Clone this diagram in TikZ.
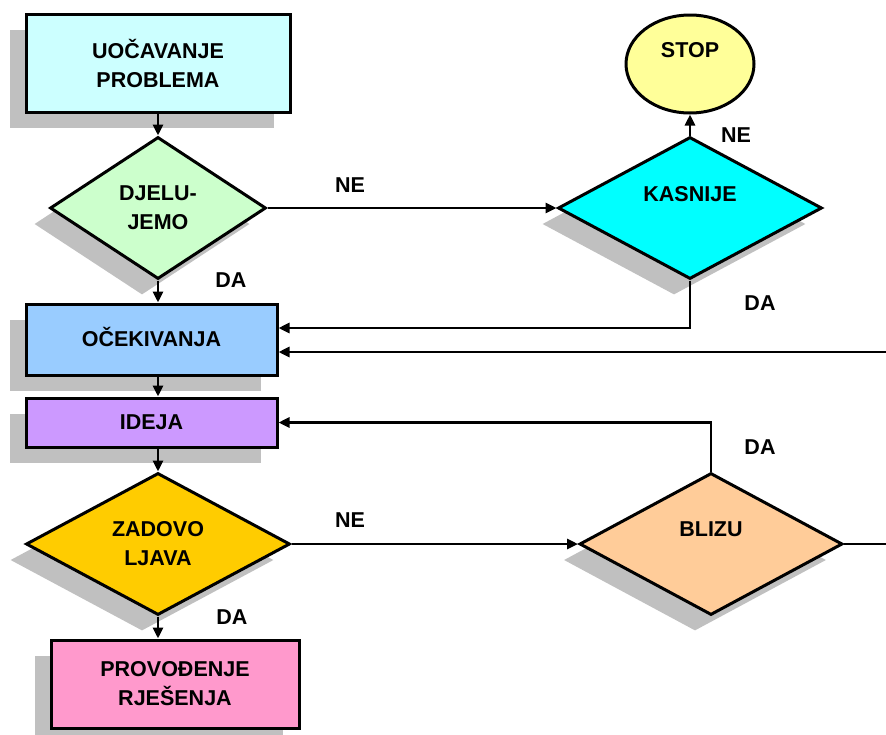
\documentclass[tikz,border=0pt]{standalone}
\usepackage{fontspec}
\setmainfont{Liberation Sans}
\usetikzlibrary{shapes.geometric,arrows.meta,shadows}

\definecolor{shadowgray}{HTML}{C0C0C0}
\definecolor{cLightCyan}{HTML}{CCFFFF}
\definecolor{cLightGreen}{HTML}{CCFFCC}
\definecolor{cCyan}{HTML}{00FFFF}
\definecolor{cYellow}{HTML}{FFFF99}
\definecolor{cBlue}{HTML}{99CCFF}
\definecolor{cViolet}{HTML}{CC99FF}
\definecolor{cGold}{HTML}{FFCC00}
\definecolor{cPeach}{HTML}{FFCC99}
\definecolor{cPink}{HTML}{FF99CC}

\tikzset{
  outline/.style={draw=black, line width=3pt, inner sep=0pt, align=center,
    font=\fontsize{21.5}{29}\selectfont\bfseries},
  shade/.style={drop shadow={shadow xshift=-16pt, shadow yshift=-16pt, fill=shadowgray, opacity=1}},
  stepbox/.style={outline, shade, rectangle},
  decision/.style={outline, shade, diamond},
  terminal/.style={outline, ellipse},
  flow/.style={draw=black, line width=2.8pt, -{Triangle[length=11pt,width=10pt]}},
  tag/.style={font=\fontsize{21.5}{24}\selectfont\bfseries, inner sep=0pt}
}

\begin{document}
\begin{tikzpicture}[x=1pt, y=-1pt]
  \path[use as bounding box] (0,0) rectangle (886,734);
  \clip (0,0) rectangle (886,734);

  % process boxes
  \node[stepbox, fill=cLightCyan, minimum width=264pt, minimum height=98pt] (b1) at (158,63) {UOČAVANJE\\PROBLEMA};
  \node[stepbox, fill=cBlue, minimum width=251pt, minimum height=71pt] (oc) at (151.5,339.5) {\raisebox{6pt}{OČEKIVANJA}};
  \node[stepbox, fill=cViolet, minimum width=251pt, minimum height=49pt] (idea) at (151.5,422.5) {\raisebox{-4pt}{IDEJA}};
  \node[stepbox, fill=cPink, minimum width=248pt, minimum height=88pt] (pr) at (175,684) {PROVOĐENJE\\RJEŠENJA};

  % decisions
  \node[decision, fill=cLightGreen, minimum width=216pt, minimum height=142pt] (d1) at (158,208) {DJELU-\\JEMO};
  \node[decision, fill=cCyan, minimum width=264pt, minimum height=142pt] (k) at (690,208) {KASNIJE\\~};
  \node[decision, fill=cGold, minimum width=264pt, minimum height=142pt] (z) at (158,544) {ZADOVO\\LJAVA};
  \node[decision, fill=cPeach, minimum width=263pt, minimum height=142pt] (bl) at (711,544) {BLIZU\\~};

  % terminal
  \node[terminal, fill=cYellow, minimum width=128pt, minimum height=98pt] (stop) at (690,64) {STOP\\~};

  % helper points
  \coordinate (col) at (158,0);
  \coordinate (rimlow) at (900,544);
  \coordinate (rimhigh) at (900,352);

  % connectors
  \draw[flow] (b1.south -| col) -- (d1.north);
  \draw[flow] (d1.east) -- (k.west);
  \draw[flow] (k.north) -- (stop.south);
  \draw[flow] (k.south) |- ([yshift=11.5pt]oc.east);
  \draw[flow] (d1.south) -- (col |- oc.north);
  \draw[flow] (col |- oc.south) -- (col |- idea.north);
  \draw[flow] (col |- idea.south) -- (z.north);
  \draw[flow] (z.south) -- (z.south |- pr.north);
  \draw[flow] (z.east) -- (bl.west);
  \draw[flow] (bl.north) |- (idea.east);
  \draw[flow] (bl.east) -- (rimlow) -- (rimhigh) -- ([yshift=-12.5pt]oc.east);

  % branch labels
  \node[tag] (l1) at (350,185) {NE};
  \node[tag] (l2) at (231,280) {DA};
  \node[tag] (l3) at (736,135) {NE};
  \node[tag] (l4) at (760,303) {DA};
  \node[tag] (l5) at (760,447) {DA};
  \node[tag] (l6) at (350,520) {NE};
  \node[tag] (l7) at (232,617) {DA};
\end{tikzpicture}
\end{document}
